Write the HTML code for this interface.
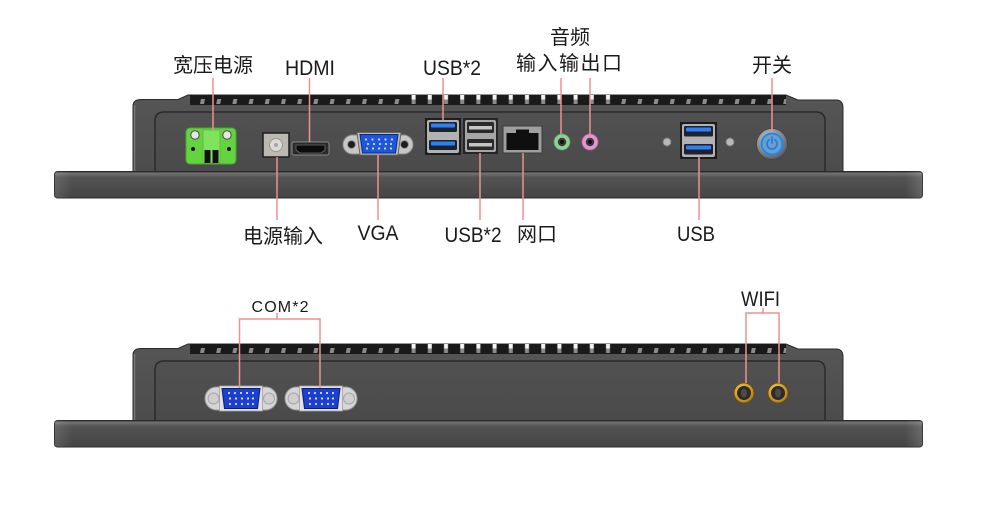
<!DOCTYPE html>
<html><head><meta charset="utf-8"><style>
html,body{margin:0;padding:0;background:#fff;}
svg{display:block;}
text{font-family:"Liberation Sans","Noto Sans CJK SC",sans-serif;fill:#1a1a1a;}
</style></head><body>
<svg width="1000" height="510" viewBox="0 0 1000 510" xmlns="http://www.w3.org/2000/svg">
<defs>
 <linearGradient id="chs" x1="0" y1="0" x2="0" y2="1"><stop offset="0" stop-color="#565656"/><stop offset="1" stop-color="#4c4c4c"/></linearGradient>
 <linearGradient id="inn" x1="0" y1="0" x2="0" y2="1"><stop offset="0" stop-color="#515152"/><stop offset="1" stop-color="#4a4a4b"/></linearGradient>
 <linearGradient id="bez" x1="0" y1="0" x2="0" y2="1"><stop offset="0" stop-color="#333"/><stop offset="0.07" stop-color="#727272"/><stop offset="0.22" stop-color="#535353"/><stop offset="1" stop-color="#454545"/></linearGradient>
 <linearGradient id="bezh" x1="0" y1="0" x2="1" y2="0"><stop offset="0" stop-color="#fff" stop-opacity="0.12"/><stop offset="0.02" stop-color="#fff" stop-opacity="0"/><stop offset="0.98" stop-color="#fff" stop-opacity="0"/><stop offset="1" stop-color="#fff" stop-opacity="0.15"/></linearGradient>
 <pattern id="fin" x="190" y="95" width="16.2" height="12" patternUnits="userSpaceOnUse">
  <rect x="0" y="0" width="16.2" height="12" fill="#1a1a1a"/>
  <path d="M11,4 L15,4 L14,9 L10,9 Z" fill="#8c8c8c"/>
 </pattern>
 <pattern id="finw" x="190" y="95" width="16.2" height="12" patternUnits="userSpaceOnUse">
  <rect x="0" y="0" width="16.2" height="12" fill="#1a1a1a"/>
  <rect x="11" y="0" width="4" height="4.5" fill="#f4f4f4"/>
  <rect x="11" y="4.5" width="4" height="4.5" fill="#8a8a8a"/>
 </pattern>
 <radialGradient id="metal" cx="0.4" cy="0.35" r="0.7"><stop offset="0" stop-color="#d0d0d0"/><stop offset="0.6" stop-color="#8a8a8a"/><stop offset="1" stop-color="#555"/></radialGradient>
 <radialGradient id="gold" cx="0.4" cy="0.35" r="0.7"><stop offset="0" stop-color="#ffd34d"/><stop offset="1" stop-color="#b07a10"/></radialGradient>
 <g id="unit">
  <path d="M133,172 L133,106 Q133,99.5 141,99.5 L178,99.5 L188,95 L786,95 L798,100 L836,100 Q843,100 843,108 L843,172 Z" fill="url(#chs)" stroke="#2b2b2b" stroke-width="1"/>
  <rect x="190" y="95" width="215" height="10" fill="url(#fin)"/>
  <rect x="405" y="95" width="215" height="10" fill="url(#finw)"/>
  <rect x="620" y="95" width="166" height="10" fill="url(#fin)"/>
  <line x1="134.5" y1="105" x2="134.5" y2="172" stroke="#777" stroke-width="1.5"/>
  <path d="M155,172 L155,121 Q155,112 164,112 L816,112 Q825,112 825,121 L825,172 Z" fill="url(#inn)" stroke="#2a2a2a" stroke-width="1.5"/>
  <rect x="54.5" y="171.5" width="868" height="26.5" rx="3" fill="url(#bez)" stroke="#2a2a2a" stroke-width="1"/>
  <rect x="54.5" y="171.5" width="868" height="26.5" rx="3" fill="url(#bezh)"/>
 </g>
</defs>

<!-- ============ TOP UNIT ============ -->
<use href="#unit"/>

<!-- green terminal -->
<rect x="186" y="128" width="50" height="36" rx="4" fill="#63d43f" stroke="#48a82a" stroke-width="1"/>
<circle cx="195" cy="135" r="4.2" fill="#e6e6e6" stroke="#4a4a4a" stroke-width="1"/>
<circle cx="227" cy="135" r="4.2" fill="#e6e6e6" stroke="#4a4a4a" stroke-width="1"/>
<rect x="203" y="130" width="17" height="33" fill="#80e35e" stroke="#55b836" stroke-width="0.8"/>
<rect x="204.5" y="150" width="6" height="13" fill="#111"/>
<rect x="212.5" y="150" width="6" height="13" fill="#111"/>
<circle cx="193" cy="149" r="2" fill="#111"/>
<circle cx="229" cy="149" r="2" fill="#111"/>

<!-- DC jack -->
<rect x="263" y="133" width="26" height="24" fill="#bcb9b3" stroke="#1e1e1e" stroke-width="1.5"/>
<circle cx="276" cy="145" r="6.5" fill="#dcdad6" stroke="#9a9893" stroke-width="1"/>
<circle cx="276" cy="145" r="2" fill="#a8a6a1"/>

<!-- HDMI -->
<rect x="292" y="142" width="37" height="13" rx="2" fill="#2a2a2a" stroke="#8a8a8a" stroke-width="1"/>
<path d="M296,145 L325,145 L325,150 L321,153 L300,153 L296,150 Z" fill="#0c0c0c" stroke="#6a6a6a" stroke-width="0.8"/>

<!-- VGA -->
<rect x="343" y="135" width="70" height="19" rx="9.5" fill="#c7c7c7" stroke="#8a8a8a" stroke-width="1"/>
<circle cx="351.5" cy="144.5" r="4" fill="#1e1e1e" stroke="#999" stroke-width="1"/>
<circle cx="404.5" cy="144.5" r="4" fill="#1e1e1e" stroke="#999" stroke-width="1"/>
<path d="M357,132.5 L401,132.5 L398,155 L360,155 Z" fill="#bdbdbd" stroke="#666" stroke-width="1"/>
<path d="M360,134.5 L398,134.5 L395.5,153 L362.5,153 Z" fill="#1d56dc" stroke="#0d2a7a" stroke-width="1"/>
<g fill="#c9dcff">
 <circle cx="366" cy="139.5" r="1.1"/><circle cx="372.5" cy="139.5" r="1.1"/><circle cx="379" cy="139.5" r="1.1"/><circle cx="385.5" cy="139.5" r="1.1"/><circle cx="392" cy="139.5" r="1.1"/>
 <circle cx="368" cy="144" r="1.1"/><circle cx="374" cy="144" r="1.1"/><circle cx="380" cy="144" r="1.1"/><circle cx="386" cy="144" r="1.1"/><circle cx="391" cy="144" r="1.1"/>
 <circle cx="367" cy="148.5" r="1.1"/><circle cx="373" cy="148.5" r="1.1"/><circle cx="379" cy="148.5" r="1.1"/><circle cx="385" cy="148.5" r="1.1"/><circle cx="391" cy="148.5" r="1.1"/>
</g>

<!-- USB3 pair left -->
<rect x="425" y="118" width="36" height="37" fill="#1e1e1e"/>
<rect x="427" y="120" width="32" height="33" rx="2" fill="#b2b2b2"/>
<rect x="429" y="122" width="28" height="10" rx="1.5" fill="#1c2230"/>
<rect x="429" y="140" width="28" height="10" rx="1.5" fill="#1c2230"/>
<rect x="431" y="123.5" width="24" height="4" rx="1" fill="#2f80f4"/>
<rect x="431" y="141.5" width="24" height="4" rx="1" fill="#2f80f4"/>

<!-- USB2 pair -->
<rect x="463" y="118" width="35" height="36" fill="#262626"/>
<rect x="465" y="120" width="31" height="32" rx="2" fill="#a6a6a6"/>
<rect x="467" y="122" width="27" height="11" rx="1.5" fill="#2a2a2a"/>
<rect x="467" y="139" width="27" height="11" rx="1.5" fill="#2a2a2a"/>
<rect x="469" y="126" width="23" height="3.5" fill="#c5c5c5"/>
<rect x="469" y="143" width="23" height="3.5" fill="#c5c5c5"/>

<!-- RJ45 -->
<rect x="503" y="126" width="39" height="27" fill="#9f9f9f" stroke="#3a3a3a" stroke-width="1"/>
<path d="M506.5,133 L516,133 L516,129.5 L529,129.5 L529,133 L538.5,133 L538.5,150 L506.5,150 Z" fill="#0f0f0f"/>

<!-- audio jacks -->
<circle cx="562" cy="142" r="8" fill="#8fd094" stroke="#5c9e62" stroke-width="0.8"/>
<circle cx="562" cy="142" r="4.2" fill="#3a3a3a"/>
<circle cx="562" cy="142" r="2" fill="#111"/>
<circle cx="590" cy="142" r="8" fill="#e394d2" stroke="#b0679e" stroke-width="0.8"/>
<circle cx="590" cy="142" r="4.2" fill="#3a3a3a"/>
<circle cx="590" cy="142" r="2" fill="#111"/>

<!-- screws + right USB -->
<circle cx="667" cy="142" r="4" fill="#b8b8b8" stroke="#7a7a7a" stroke-width="0.8"/>
<circle cx="730" cy="142" r="4" fill="#b8b8b8" stroke="#7a7a7a" stroke-width="0.8"/>
<rect x="680" y="122" width="37" height="37" fill="#1c1c1c"/>
<rect x="682" y="124" width="33" height="33" rx="2" fill="#b2b2b2"/>
<rect x="684" y="126" width="29" height="10.5" rx="1.5" fill="#1c2230"/>
<rect x="684" y="144" width="29" height="10.5" rx="1.5" fill="#1c2230"/>
<rect x="686" y="127.5" width="25" height="4" rx="1" fill="#2f80f4"/>
<rect x="686" y="145.5" width="25" height="4" rx="1" fill="#2f80f4"/>

<!-- power button -->
<circle cx="772" cy="144" r="15.5" fill="url(#metal)" stroke="#444" stroke-width="0.8"/>
<circle cx="772" cy="144" r="11.5" fill="#1f88f0"/>
<circle cx="772" cy="144" r="9.5" fill="#6c9ec8"/>
<path d="M769.1,139.9 A5,5 0 1 0 774.9,139.9" fill="none" stroke="#1f7fe6" stroke-width="1.8" stroke-linecap="round"/>
<line x1="772" y1="137" x2="772" y2="143" stroke="#1f7fe6" stroke-width="1.8" stroke-linecap="round"/>

<!-- leader lines top -->
<g stroke="#ef9191" stroke-width="1.5" fill="none">
 <line x1="213" y1="78" x2="213" y2="130"/>
 <line x1="309.5" y1="78" x2="309.5" y2="142"/>
 <line x1="443" y1="78" x2="443" y2="120"/>
 <line x1="561" y1="78" x2="561" y2="134"/>
 <line x1="590" y1="78" x2="590" y2="135"/>
 <line x1="772" y1="78" x2="772" y2="132"/>
 <line x1="277" y1="157" x2="277" y2="220"/>
 <line x1="378" y1="155" x2="378" y2="220"/>
 <line x1="480" y1="153" x2="480" y2="220"/>
 <line x1="523" y1="153" x2="523" y2="220"/>
 <line x1="699" y1="157" x2="699" y2="220"/>
</g>

<!-- labels top -->
<text x="213" y="72" font-size="20" text-anchor="middle">宽压电源</text>
<text x="310" y="75" font-size="21" text-anchor="middle" textLength="50" lengthAdjust="spacingAndGlyphs">HDMI</text>
<text x="452" y="75" font-size="21" text-anchor="middle" textLength="58" lengthAdjust="spacingAndGlyphs">USB*2</text>
<text x="570" y="44" font-size="20" text-anchor="middle">音频</text>
<text x="569" y="70" font-size="20" text-anchor="middle" textLength="106" lengthAdjust="spacing">输入输出口</text>
<text x="772" y="72" font-size="20" text-anchor="middle">开关</text>
<text x="283" y="243" font-size="20" text-anchor="middle">电源输入</text>
<text x="378" y="240" font-size="21" text-anchor="middle" textLength="41" lengthAdjust="spacingAndGlyphs">VGA</text>
<text x="473" y="242" font-size="21" text-anchor="middle" textLength="57" lengthAdjust="spacingAndGlyphs">USB*2</text>
<text x="537" y="241" font-size="20" text-anchor="middle">网口</text>
<text x="696" y="241" font-size="21" text-anchor="middle" textLength="38" lengthAdjust="spacingAndGlyphs">USB</text>

<!-- ============ BOTTOM UNIT ============ -->
<use href="#unit" transform="translate(0,249)"/>

<!-- COM ports -->
<g>
 <rect x="205" y="387" width="72" height="23" rx="11.5" fill="#d6d6d6" stroke="#9a9a9a" stroke-width="1"/>
 <circle cx="213.5" cy="398.5" r="5.5" fill="#cfcfcf" stroke="#a5a5a5" stroke-width="1"/>
 <circle cx="269" cy="398.5" r="5.5" fill="#cfcfcf" stroke="#a5a5a5" stroke-width="1"/>
 <rect x="219.5" y="386" width="43" height="25" fill="#e2e2e2" stroke="#a0a0a0" stroke-width="0.8"/>
 <path d="M222,388.5 L260,388.5 L257.5,408.5 L224.5,408.5 Z" fill="#1a3fd2" stroke="#0b1f6e" stroke-width="1"/>
 <rect x="285" y="387" width="72" height="23" rx="11.5" fill="#d6d6d6" stroke="#9a9a9a" stroke-width="1"/>
 <circle cx="293.5" cy="398.5" r="5.5" fill="#cfcfcf" stroke="#a5a5a5" stroke-width="1"/>
 <circle cx="349" cy="398.5" r="5.5" fill="#cfcfcf" stroke="#a5a5a5" stroke-width="1"/>
 <rect x="299.5" y="386" width="43" height="25" fill="#e2e2e2" stroke="#a0a0a0" stroke-width="0.8"/>
 <path d="M302,388.5 L340,388.5 L337.5,408.5 L304.5,408.5 Z" fill="#1a3fd2" stroke="#0b1f6e" stroke-width="1"/>
 <g fill="#d6e2ff">
  <circle cx="229" cy="393" r="1.1"/><circle cx="235" cy="393" r="1.1"/><circle cx="241" cy="393" r="1.1"/><circle cx="247" cy="393" r="1.1"/><circle cx="253" cy="393" r="1.1"/>
  <circle cx="230" cy="398.5" r="1.1"/><circle cx="236" cy="398.5" r="1.1"/><circle cx="242" cy="398.5" r="1.1"/><circle cx="248" cy="398.5" r="1.1"/><circle cx="253" cy="398.5" r="1.1"/>
  <circle cx="230" cy="404" r="1.1"/><circle cx="236" cy="404" r="1.1"/><circle cx="242" cy="404" r="1.1"/><circle cx="248" cy="404" r="1.1"/><circle cx="253" cy="404" r="1.1"/>
  <circle cx="309" cy="393" r="1.1"/><circle cx="315" cy="393" r="1.1"/><circle cx="321" cy="393" r="1.1"/><circle cx="327" cy="393" r="1.1"/><circle cx="333" cy="393" r="1.1"/>
  <circle cx="310" cy="398.5" r="1.1"/><circle cx="316" cy="398.5" r="1.1"/><circle cx="322" cy="398.5" r="1.1"/><circle cx="328" cy="398.5" r="1.1"/><circle cx="333" cy="398.5" r="1.1"/>
  <circle cx="310" cy="404" r="1.1"/><circle cx="316" cy="404" r="1.1"/><circle cx="322" cy="404" r="1.1"/><circle cx="328" cy="404" r="1.1"/><circle cx="333" cy="404" r="1.1"/>
 </g>
</g>

<!-- WIFI antennas -->
<circle cx="744" cy="393" r="10" fill="url(#gold)" stroke="#6a4a08" stroke-width="0.8"/>
<circle cx="744" cy="393" r="7" fill="#2c2c2c"/>
<ellipse cx="744" cy="393" rx="3" ry="4.5" fill="#4a4a4a"/>
<circle cx="778" cy="393" r="10" fill="url(#gold)" stroke="#6a4a08" stroke-width="0.8"/>
<circle cx="778" cy="393" r="7" fill="#2c2c2c"/>
<ellipse cx="778" cy="393" rx="3" ry="4.5" fill="#4a4a4a"/>

<!-- brackets -->
<g stroke="#ef9191" stroke-width="1.5" fill="none">
 <polyline points="239.5,388 239.5,319 320,319 320,388"/>
 <line x1="277" y1="313" x2="277" y2="319"/>
 <polyline points="746,383 746,313 779,313 779,383"/>
 <line x1="763" y1="308" x2="763" y2="313"/>
</g>

<text x="280" y="312" font-size="16" text-anchor="middle" textLength="57" lengthAdjust="spacing">COM*2</text>
<text x="760.5" y="306" font-size="21" text-anchor="middle" textLength="39" lengthAdjust="spacingAndGlyphs">WIFI</text>
</svg>
</body></html>
